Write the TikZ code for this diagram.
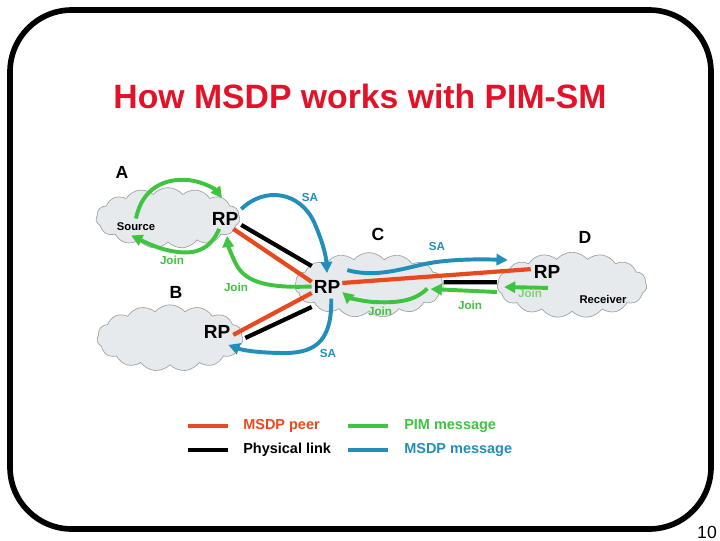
\documentclass[tikz,border=0pt]{standalone}
\usepackage{fontspec}
\setmainfont{Liberation Sans}
\usetikzlibrary{arrows.meta,positioning,calc,shapes.symbols}

\definecolor{peerred}{RGB}{232,74,32}
\definecolor{pimgreen}{RGB}{62,196,62}
\definecolor{msdpblue}{RGB}{34,142,186}
\definecolor{titlered}{RGB}{228,18,40}
\definecolor{cloudfill}{RGB}{231,234,236}
\definecolor{cloudline}{RGB}{160,164,168}

\begin{document}
\begin{tikzpicture}[x=0.025cm,y=-0.025cm,
    netcloud/.style={cloud,cloud puffs=15,cloud puff arc=100,aspect=2.3,draw=cloudline,fill=cloudfill,line width=0.5pt,inner sep=0pt},
    rp/.style={font=\fontsize{13.5}{14}\selectfont\bfseries,inner xsep=2pt,inner ysep=2.2pt},
    tag/.style={font=\fontsize{12.5}{14}\selectfont\bfseries},
    host/.style={font=\fontsize{8}{9}\selectfont\bfseries,inner sep=3pt},
    msg/.style={font=\fontsize{8.3}{9}\selectfont\bfseries},
    key/.style={font=\fontsize{10.3}{12}\selectfont\bfseries,inner sep=0pt,anchor=west},
    link/.style={draw=black,line width=3pt},
    peer/.style={draw=peerred,line width=3pt},
    pim/.style={draw=pimgreen,line width=2.8pt,-{Triangle[length=8pt,width=8pt]}},
    msdp/.style={draw=msdpblue,line width=2.8pt,-{Triangle[length=8pt,width=8pt]}}]
    \useasboundingbox (0,0) rectangle (720,540);

    % slide frame and title
    \draw[line width=4pt,rounded corners=44pt] (10,10) rectangle (711,529);
    \node[font=\fontsize{24}{28}\selectfont\bfseries,text=titlered] (title) at (360,96) {How MSDP works with PIM-SM};
    \node[font=\fontsize{12.5}{14}\selectfont] (pageno) at (707,532) {10};

    % domains
    \node[netcloud,minimum width=3.6cm,minimum height=1.52cm] (cloudA) at (168,218) {};
    \node[netcloud,minimum width=3.65cm,minimum height=1.66cm] (cloudB) at (170,338) {};
    \node[netcloud,minimum width=3.72cm,minimum height=1.62cm] (cloudC) at (369,285) {};
    \node[netcloud,minimum width=3.74cm,minimum height=1.64cm] (cloudD) at (572,285) {};

    \node[tag] (nameA) at (122,172) {A};
    \node[tag] (nameB) at (176,292) {B};
    \node[tag] (nameC) at (378,234) {C};
    \node[tag] (nameD) at (585,237) {D};

    % rendezvous points and hosts
    \node[rp] (rpA) at (225,219) {RP};
    \node[rp,inner ysep=9.7pt,inner xsep=1.3pt] (rpC) at (327,286.5) {RP};
    \node[rp] (rpB) at (217,332) {RP};
    \node[rp] (rpD) at (547,272) {RP};
    \node[host] (source) at (136,227) {Source};
    \node[host] (receiver) at (603,299) {Receiver};

    % physical links
    \draw[link] (rpA.-20) -- (rpC.north west);
    \draw[link] (rpC.south west) -- ($(rpB.east)+(12,6)$);
    \draw[link] ([yshift=2pt]cloudC.east) -- ([yshift=2pt]cloudD.west);

    % MSDP peerings
    \draw[peer] (rpA.-50) -- (rpC.163);
    \draw[peer] (rpC.203) -- (rpB.-10);
    \draw[peer] (rpC.13) -- (rpD.170);

    % SA messages
    \draw[msdp] (rpA.north east) .. controls (265,186) and (300,192) .. (314,222)
        .. controls (322,240) and (326,255) .. ([yshift=-5pt]rpC.north);
    \draw[msdp] ([xshift=3pt,yshift=6pt]rpC.south) .. controls (332,338) and (318,353) .. (285,353)
        .. controls (258,353) and (242,350) .. ($(rpB.south east)+(-5,3)$);
    \draw[msdp] ($(rpC.north east)+(5,4)$) .. controls (372,277) and (395,271) .. (420,265)
        .. controls (445,259) and (480,259) .. ($(rpD.north west)+(-23,-2)$);

    % PIM joins
    \draw[pim] (source.north) .. controls (142,188) and (165,178) .. (188,180)
        .. controls (205,182) and (216,190) .. ($(rpA.north)+(-3,-11)$);
    \draw[pim] (rpA.240) .. controls (210,250) and (195,254) .. (178,252)
        .. controls (160,250) and (145,242) .. (source.240);
    \draw[pim] (rpC.west) .. controls (272,288) and (246,284) .. (236,264)
        .. controls (230,252) and (228,245) .. ($(rpA.south)+(2,7)$);
    \draw[pim] ($(rpC.east)+(85,2)$) .. controls (414,302) and (395,303) .. (373,302)
        .. controls (360,301) and (348,297) .. (rpC.-20);
    \draw[pim] ([yshift=-5pt]cloudD.west) -- ($(cloudC.east)+(-13,4)$);
    \draw[pim] ($(rpD.south)+(1,6)$) -- ($(cloudD.west)+(7,2)$);

    % message labels
    \node[msg,text=msdpblue] (saAC) at (310,197) {SA};
    \node[msg,text=msdpblue] (saCD) at (437,246) {SA};
    \node[msg,text=msdpblue] (saCB) at (328,353) {SA};
    \node[msg,text=pimgreen] (joinA) at (172,260) {Join};
    \node[msg,text=pimgreen] (joinCA) at (236,287) {Join};
    \node[msg,text=pimgreen] (joinC) at (380,311) {Join};
    \node[msg,text=pimgreen] (joinDC) at (470,305) {Join};
    \node[msg,text=pimgreen!70!white] (joinD) at (530,293) {Join};

    % legend
    \node[key,text=peerred] (keyPeer) at (243,426) {MSDP peer};
    \node[key] (keyLink) at (243,450) {Physical link};
    \node[key,text=pimgreen] (keyPim) at (404,426) {PIM message};
    \node[key,text=msdpblue] (keyMsdp) at (404,450) {MSDP message};
    \draw[peer,line width=2.2pt] ($(keyPeer.west)+(-55,0)$) -- ++(40,0);
    \draw[link,line width=2.2pt] ($(keyLink.west)+(-55,0)$) -- ++(40,0);
    \draw[pim,-,line width=2.2pt] ($(keyPim.west)+(-56,0)$) -- ++(40,0);
    \draw[msdp,-,line width=2.2pt] ($(keyMsdp.west)+(-56,0)$) -- ++(40,0);
\end{tikzpicture}
\end{document}
